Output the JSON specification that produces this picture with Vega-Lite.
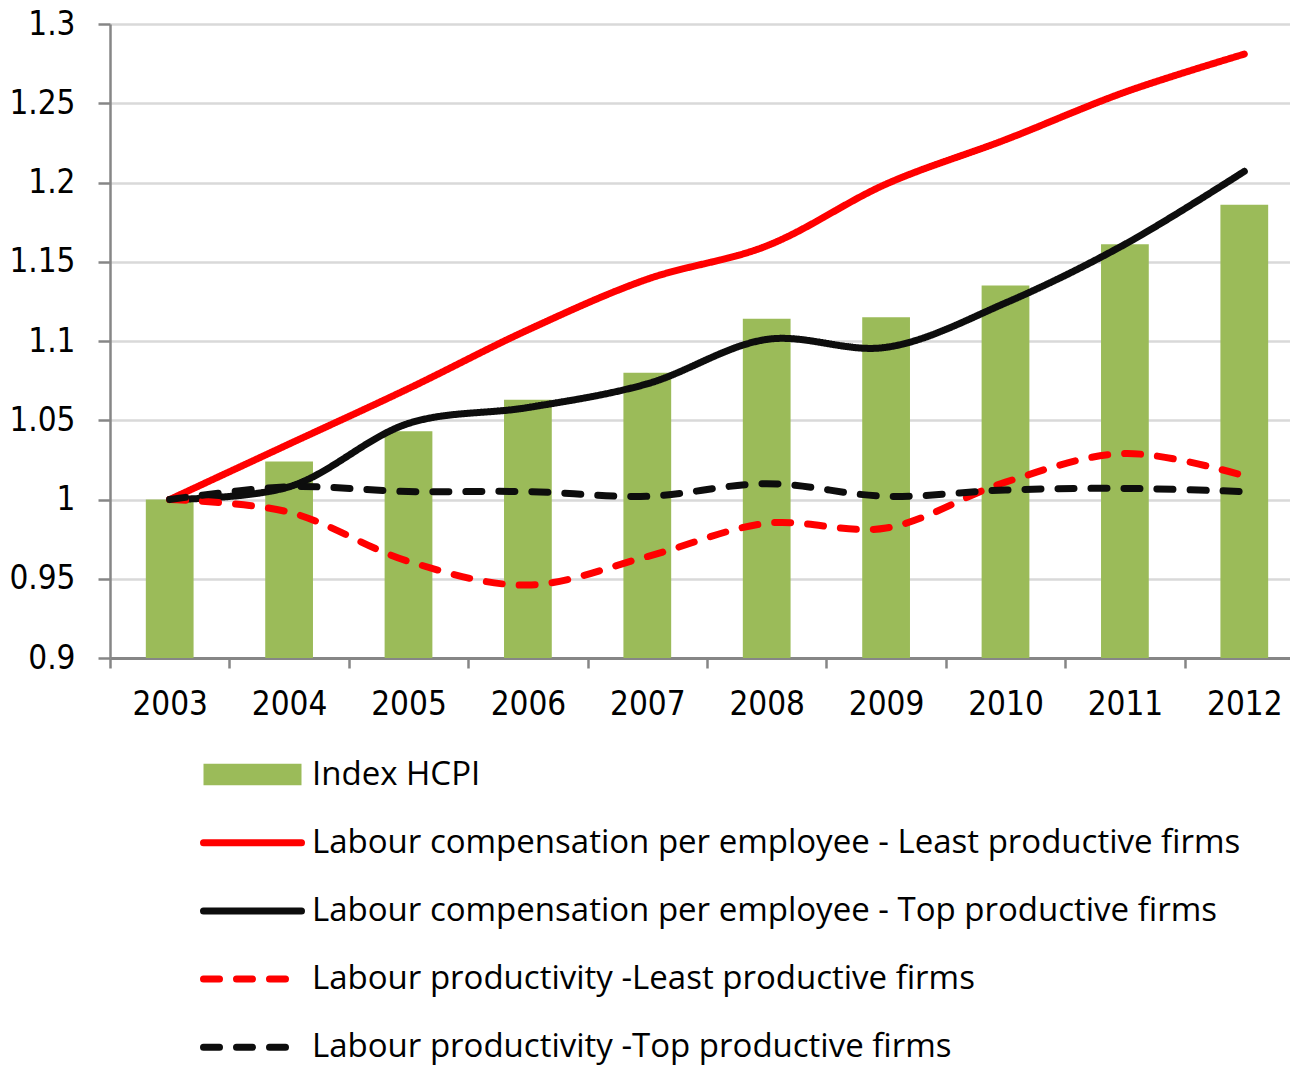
{
  "$schema": "https://vega.github.io/schema/vega-lite/v6.json",
  "autosize": {"type": "none"},
  "width": 1180,
  "height": 634,
  "padding": {"left": 110, "top": 24, "right": 0, "bottom": 410},
  "background": "white",
  "config": {
    "view": {"stroke": null},
    "axis": {"labelFont": "Liberation Sans Narrow, DejaVu Sans Condensed, sans-serif", "labelFontSize": 33, "labelColor": "#000000", "domainColor": "#868686", "tickColor": "#868686", "title": null}
  },
  "datasets": {
    "rows": [
      {"year": "2003", "series": "Index HCPI", "value": 1.0},
      {"year": "2004", "series": "Index HCPI", "value": 1.024},
      {"year": "2005", "series": "Index HCPI", "value": 1.043},
      {"year": "2006", "series": "Index HCPI", "value": 1.063},
      {"year": "2007", "series": "Index HCPI", "value": 1.080},
      {"year": "2008", "series": "Index HCPI", "value": 1.114},
      {"year": "2009", "series": "Index HCPI", "value": 1.115},
      {"year": "2010", "series": "Index HCPI", "value": 1.135},
      {"year": "2011", "series": "Index HCPI", "value": 1.161},
      {"year": "2012", "series": "Index HCPI", "value": 1.186},
      {"year": "2003", "series": "Labour compensation per employee - Least productive firms", "value": 1.0},
      {"year": "2004", "series": "Labour compensation per employee - Least productive firms", "value": 1.035},
      {"year": "2005", "series": "Labour compensation per employee - Least productive firms", "value": 1.070},
      {"year": "2006", "series": "Labour compensation per employee - Least productive firms", "value": 1.107},
      {"year": "2007", "series": "Labour compensation per employee - Least productive firms", "value": 1.139},
      {"year": "2008", "series": "Labour compensation per employee - Least productive firms", "value": 1.160},
      {"year": "2009", "series": "Labour compensation per employee - Least productive firms", "value": 1.199},
      {"year": "2010", "series": "Labour compensation per employee - Least productive firms", "value": 1.227},
      {"year": "2011", "series": "Labour compensation per employee - Least productive firms", "value": 1.257},
      {"year": "2012", "series": "Labour compensation per employee - Least productive firms", "value": 1.281},
      {"year": "2003", "series": "Labour compensation per employee - Top productive firms", "value": 1.0},
      {"year": "2004", "series": "Labour compensation per employee - Top productive firms", "value": 1.008},
      {"year": "2005", "series": "Labour compensation per employee - Top productive firms", "value": 1.048},
      {"year": "2006", "series": "Labour compensation per employee - Top productive firms", "value": 1.058},
      {"year": "2007", "series": "Labour compensation per employee - Top productive firms", "value": 1.073},
      {"year": "2008", "series": "Labour compensation per employee - Top productive firms", "value": 1.101},
      {"year": "2009", "series": "Labour compensation per employee - Top productive firms", "value": 1.096},
      {"year": "2010", "series": "Labour compensation per employee - Top productive firms", "value": 1.124},
      {"year": "2011", "series": "Labour compensation per employee - Top productive firms", "value": 1.161},
      {"year": "2012", "series": "Labour compensation per employee - Top productive firms", "value": 1.207},
      {"year": "2003", "series": "Labour productivity -Least productive firms", "value": 1.0},
      {"year": "2004", "series": "Labour productivity -Least productive firms", "value": 0.992},
      {"year": "2005", "series": "Labour productivity -Least productive firms", "value": 0.961},
      {"year": "2006", "series": "Labour productivity -Least productive firms", "value": 0.946},
      {"year": "2007", "series": "Labour productivity -Least productive firms", "value": 0.964},
      {"year": "2008", "series": "Labour productivity -Least productive firms", "value": 0.985},
      {"year": "2009", "series": "Labour productivity -Least productive firms", "value": 0.982},
      {"year": "2010", "series": "Labour productivity -Least productive firms", "value": 1.011},
      {"year": "2011", "series": "Labour productivity -Least productive firms", "value": 1.029},
      {"year": "2012", "series": "Labour productivity -Least productive firms", "value": 1.015},
      {"year": "2003", "series": "Labour productivity -Top productive firms", "value": 1.0},
      {"year": "2004", "series": "Labour productivity -Top productive firms", "value": 1.008},
      {"year": "2005", "series": "Labour productivity -Top productive firms", "value": 1.005},
      {"year": "2006", "series": "Labour productivity -Top productive firms", "value": 1.005},
      {"year": "2007", "series": "Labour productivity -Top productive firms", "value": 1.002},
      {"year": "2008", "series": "Labour productivity -Top productive firms", "value": 1.010},
      {"year": "2009", "series": "Labour productivity -Top productive firms", "value": 1.002},
      {"year": "2010", "series": "Labour productivity -Top productive firms", "value": 1.006},
      {"year": "2011", "series": "Labour productivity -Top productive firms", "value": 1.007},
      {"year": "2012", "series": "Labour productivity -Top productive firms", "value": 1.005}
    ]
  },
  "data": {"name": "rows"},
  "encoding": {
    "x": {
      "field": "year", "type": "nominal",
      "scale": {"range": [0, 1194], "paddingInner": 0.6, "paddingOuter": 0.3},
      "axis": {"labelAngle": 0, "tickOffset": -59.7, "labelOffset": 59.7, "tickSize": 10, "tickWidth": 2.5, "domainWidth": 3, "labelPadding": 20, "grid": false}
    },
    "y": {
      "field": "value", "type": "quantitative",
      "scale": {"domain": [0.9, 1.3], "nice": false, "zero": false},
      "axis": {"values": [0.9, 0.95, 1, 1.05, 1.1, 1.15, 1.2, 1.25, 1.3], "format": ".3~g", "tickSize": 12, "tickWidth": 2.5, "domainWidth": 2.5, "labelPadding": 23, "gridColor": "#d9d9d9", "gridWidth": 2.5}
    },
    "color": {
      "field": "series", "type": "nominal",
      "scale": {
        "domain": ["Index HCPI", "Labour compensation per employee - Least productive firms", "Labour compensation per employee - Top productive firms", "Labour productivity -Least productive firms", "Labour productivity -Top productive firms"],
        "range": ["#9bbb59", "#ff0000", "#0d0d0d", "#ff0000", "#0d0d0d"]
      },
      "legend": {
        "title": null,
        "orient": "none",
        "legendX": 90,
        "legendY": 734,
        "direction": "vertical",
        "labelFont": "Open Sans",
        "labelFontSize": 33,
        "labelColor": "#000000",
        "labelLimit": 2000,
        "labelOffset": 43,
        "symbolOffset": 36,
        "symbolSize": 9604,
        "symbolStrokeWidth": 7,
        "rowPadding": 34.2,
        "encode": {
          "symbols": {
            "update": {
              "shape": {"signal": "datum.value === 'Index HCPI' ? 'M-1,-0.22H1V0.22H-1Z' : 'stroke'"},
              "strokeDash": {"signal": "indexof(datum.value, 'productivity -') >= 0 ? [16, 17] : [1, 0]"},
              "strokeWidth": {"signal": "datum.value === 'Index HCPI' ? 0 : 7"},
              "fill": {"signal": "datum.value === 'Index HCPI' ? '#9bbb59' : 'transparent'"},
              "stroke": {"signal": "datum.value === 'Index HCPI' ? 'transparent' : (indexof(datum.value, 'Least') >= 0 ? '#ff0000' : '#0d0d0d')"},
              "strokeCap": {"value": "round"},
              "opacity": {"value": 1}
            }
          }
        }
      }
    }
  },
  "layer": [
    {
      "transform": [{"filter": "datum.series === 'Index HCPI'"}],
      "mark": {"type": "bar", "opacity": 1, "clip": true}
    },
    {
      "transform": [{"filter": "datum.series !== 'Index HCPI'"}],
      "mark": {"type": "line", "strokeWidth": 7, "strokeCap": "round", "strokeJoin": "round", "interpolate": "catmull-rom"},
      "encoding": {
        "strokeDash": {
          "field": "series", "type": "nominal",
          "scale": {
            "domain": ["Labour compensation per employee - Least productive firms", "Labour compensation per employee - Top productive firms", "Labour productivity -Least productive firms", "Labour productivity -Top productive firms"],
            "range": [[1, 0], [1, 0], [16, 17], [16, 17]]
          },
          "legend": null
        }
      }
    }
  ]
}
